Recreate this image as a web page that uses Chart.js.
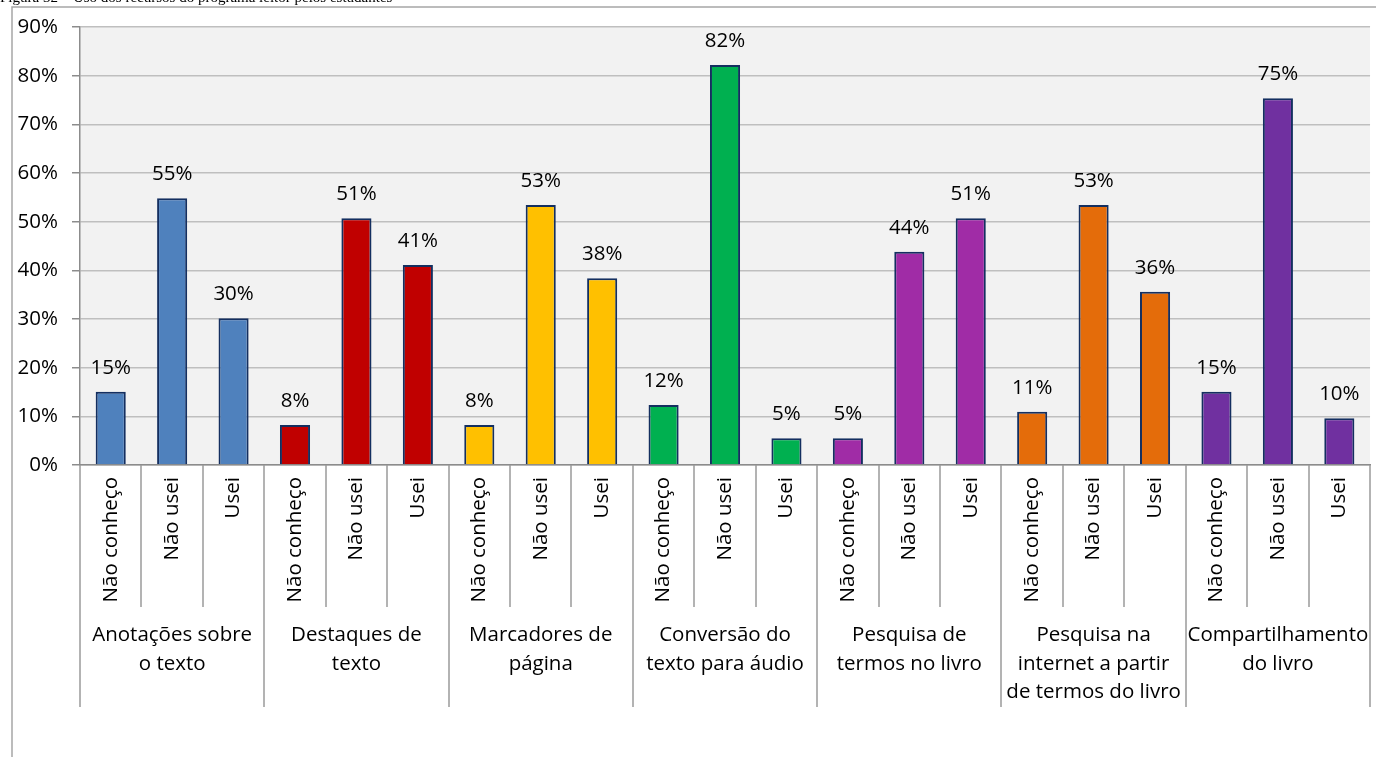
<!DOCTYPE html>
<html lang="pt">
<head>
<meta charset="utf-8">
<title>Uso dos recursos do programa leitor pelos estudantes</title>
<script src="https://cdn.jsdelivr.net/npm/chart.js@4.4.1/dist/chart.umd.min.js"></script>
<style>
  html, body { margin: 0; padding: 0; background: #ffffff; overflow: hidden; }
  #wrap { position: relative; width: 1376px; height: 757px; }
  #caption {
    position: absolute; left: 0; top: -11px; white-space: nowrap;
    font-family: "Liberation Serif", "DejaVu Serif", serif; font-size: 15px; color: #000;
    z-index: 2;
  }
  canvas { position: absolute; left: 0; top: 0; }
</style>
</head>
<body>
<div id="wrap">
  <div id="caption">Figura 32 – Uso dos recursos do programa leitor pelos estudantes</div>
  <canvas id="chart" width="1376" height="757"></canvas>
</div>
<script>
// Recursos avaliados (cada um com três respostas)
const resources = [
  ['Anotações sobre', 'o texto'],
  ['Destaques de', 'texto'],
  ['Marcadores de', 'página'],
  ['Conversão do', 'texto para áudio'],
  ['Pesquisa de', 'termos no livro'],
  ['Pesquisa na', 'internet a partir', 'de termos do livro'],
  ['Compartilhamento', 'do livro']
];
const answers = ['Não conheço', 'Não usei', 'Usei'];

// Percentual de estudantes por resposta
const anotacoes      = [15.07, 54.79, 30.14];
const destaques      = [8.22, 50.68, 41.10];
const marcadores     = [8.22, 53.42, 38.36];
const conversao      = [12.33, 82.19, 5.48];
const pesquisaLivro  = [5.48, 43.84, 50.68];
const pesquisaWeb    = [10.96, 53.42, 35.62];
const compartilhar   = [15.07, 75.34, 9.59];

const yTicks = [0, 10, 20, 30, 40, 50, 60, 70, 80, 90];

const groupValues = [anotacoes, destaques, marcadores, conversao, pesquisaLivro, pesquisaWeb, compartilhar];
const groupColors = ['#4F81BD', '#C00000', '#FFC000', '#00B050', '#A02CA6', '#E46C0A', '#7030A0'];

const labels = [];
const values = [];
const colors = [];
groupValues.forEach((vals, g) => {
  vals.forEach((v, i) => {
    labels.push(answers[i]);
    values.push(v);
    colors.push(groupColors[g]);
  });
});

const FONT = '"Open Sans", "DejaVu Sans", sans-serif';
const FONT_SIZE = 20.5;

// Moldura externa da área do gráfico
const framePlugin = {
  id: 'frame',
  beforeDraw(chart) {
    const ctx = chart.ctx;
    ctx.save();
    ctx.strokeStyle = '#A6A6A6';
    ctx.lineWidth = 1.5;
    ctx.beginPath();
    ctx.moveTo(12, 757);
    ctx.lineTo(12, 7);
    ctx.lineTo(1376, 7);
    ctx.stroke();
    ctx.restore();
  }
};

// Rótulos de valor acima das barras
const valueLabels = {
  id: 'valueLabels',
  afterDatasetsDraw(chart) {
    const ctx = chart.ctx;
    const meta = chart.getDatasetMeta(0);
    ctx.save();
    ctx.font = FONT_SIZE + 'px ' + FONT;
    ctx.fillStyle = '#000';
    ctx.textAlign = 'center';
    ctx.textBaseline = 'alphabetic';
    meta.data.forEach((bar, i) => {
      ctx.fillText(Math.round(values[i]) + '%', bar.x, bar.y - 18);
    });
    ctx.restore();
  }
};

// Eixo de categorias em dois níveis: divisórias e nomes dos recursos
const groupAxis = {
  id: 'groupAxis',
  afterDraw(chart) {
    const ctx = chart.ctx;
    const x = chart.scales.x;
    const base = chart.chartArea.bottom;
    const n = labels.length;
    const half = (x.getPixelForValue(1) - x.getPixelForValue(0)) / 2;
    ctx.save();
    ctx.strokeStyle = '#9A9A9A';
    ctx.lineWidth = 1.5;
    for (let i = 0; i <= n; i++) {
      const px = i < n ? x.getPixelForValue(i) - half : x.getPixelForValue(n - 1) + half;
      const isGroupEdge = i % answers.length === 0;
      ctx.beginPath();
      ctx.moveTo(Math.round(px), base);
      ctx.lineTo(Math.round(px), isGroupEdge ? 707 : 607);
      ctx.stroke();
    }
    ctx.font = FONT_SIZE + 'px ' + FONT;
    ctx.fillStyle = '#000';
    ctx.textAlign = 'center';
    ctx.textBaseline = 'alphabetic';
    resources.forEach((lines, g) => {
      const cx = x.getPixelForValue(g * answers.length + 1);
      lines.forEach((line, k) => {
        ctx.fillText(line, cx, 641 + k * 28.5);
      });
    });
    ctx.restore();
  }
};

new Chart(document.getElementById('chart'), {
  type: 'bar',
  data: {
    labels: labels,
    datasets: [{
      data: values,
      backgroundColor: colors,
      borderColor: '#142F60',
      borderWidth: 2,
      borderSkipped: 'bottom',
      categoryPercentage: 1,
      barPercentage: 0.49
    }]
  },
  options: {
    responsive: false,
    animation: false,
    devicePixelRatio: 1,
    layout: { padding: { top: 27, right: 3, left: 0, bottom: 0 } },
    plugins: {
      legend: { display: false },
      tooltip: { enabled: false },
      title: { display: false }
    },
    scales: {
      x: {
        grid: { display: false, drawTicks: false },
        border: { display: true, color: '#8C8C8C', width: 1.5 },
        ticks: {
          autoSkip: false,
          minRotation: 90,
          maxRotation: 90,
          padding: 12,
          color: '#000',
          font: { family: FONT, size: FONT_SIZE }
        },
        afterFit(scale) { scale.height = 757 - 465; }
      },
      y: {
        min: 0,
        max: 90,
        afterBuildTicks(scale) { scale.ticks = yTicks.map(v => ({ value: v })); },
        grid: {
          color: '#BFBFBF',
          lineWidth: 1.5,
          tickLength: 8,
          tickColor: '#8C8C8C'
        },
        border: { display: true, color: '#8C8C8C', width: 1.5 },
        ticks: {
          padding: 14,
          color: '#000',
          font: { family: FONT, size: FONT_SIZE },
          callback: v => v + '%'
        },
        afterFit(scale) { scale.width = 80; }
      }
    }
  },
  plugins: [framePlugin, valueLabels, groupAxis, {
    id: 'plotBackground',
    beforeDraw(chart) {
      const a = chart.chartArea;
      chart.ctx.save();
      chart.ctx.fillStyle = '#F2F2F2';
      chart.ctx.fillRect(a.left, a.top, a.right - a.left, a.bottom - a.top);
      chart.ctx.restore();
    }
  }]
});
</script>
</body>
</html>
